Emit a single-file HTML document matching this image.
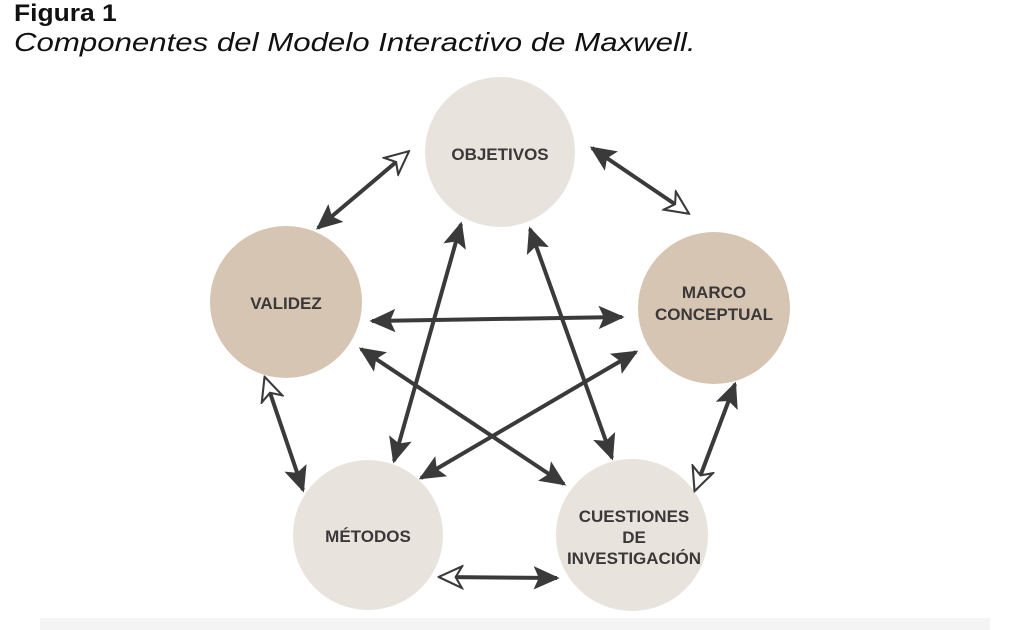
<!DOCTYPE html>
<html><head><meta charset="utf-8"><style>
body{margin:0;width:1024px;height:630px;background:#fff;overflow:hidden;position:relative;font-family:"Liberation Sans",sans-serif}
.t1{position:absolute;left:14px;top:0px;font-size:24px;font-weight:bold;color:#111;transform:scaleX(1.1);transform-origin:0 0;white-space:nowrap}
.t2{position:absolute;left:14px;top:27px;font-size:26px;font-style:italic;color:#111;transform:scaleX(1.2);transform-origin:0 0;white-space:nowrap}
</style></head><body>
<div class="t1">Figura 1</div>
<div class="t2">Componentes del Modelo Interactivo de Maxwell.</div>
<svg width="1024" height="630" style="position:absolute;left:0;top:0">
<defs>
<marker id="f" viewBox="0 0 10 10" refX="9" refY="5" markerWidth="6.5" markerHeight="6.5" orient="auto-start-reverse" markerUnits="strokeWidth">
<path d="M0,0.5 L10,5 L0,9.5 L2,5 z" fill="#3a3a3a"/></marker>
<marker id="o" viewBox="0 0 10 10" refX="9" refY="5" markerWidth="6.5" markerHeight="6.5" orient="auto-start-reverse" markerUnits="strokeWidth">
<path d="M0.5,0.8 L9.5,5 L0.5,9.2 L3,5 z" fill="#fff" stroke="#3a3a3a" stroke-width="0.8"/></marker>
</defs>
<rect x="40" y="618" width="950" height="12" fill="#f4f4f4"/>
<circle cx="500" cy="152" r="75" fill="#e8e3dd"/>
<circle cx="286" cy="302" r="76" fill="#d7c5b3"/>
<circle cx="714" cy="308" r="76" fill="#d7c5b3"/>
<circle cx="368" cy="535" r="75" fill="#e8e3dd"/>
<circle cx="632" cy="535" r="76" fill="#e8e3dd"/>
<g stroke="#3a3a3a" stroke-width="4" fill="none">
<line x1="318" y1="228" x2="408" y2="152" marker-start="url(#f)" marker-end="url(#o)"/>
<line x1="592" y1="148" x2="688" y2="213" marker-start="url(#f)" marker-end="url(#o)"/>
<line x1="735" y1="384" x2="695" y2="490" marker-start="url(#f)" marker-end="url(#o)"/>
<line x1="557" y1="578" x2="440" y2="577" marker-start="url(#f)" marker-end="url(#o)"/>
<line x1="303" y1="490" x2="265" y2="378" marker-start="url(#f)" marker-end="url(#o)"/>
<line x1="461" y1="224" x2="394" y2="461" marker-start="url(#f)" marker-end="url(#f)"/>
<line x1="530" y1="229" x2="612" y2="458" marker-start="url(#f)" marker-end="url(#f)"/>
<line x1="372" y1="321" x2="622" y2="317" marker-start="url(#f)" marker-end="url(#f)"/>
<line x1="361" y1="349" x2="564" y2="484" marker-start="url(#f)" marker-end="url(#f)"/>
<line x1="636" y1="352" x2="421" y2="478" marker-start="url(#f)" marker-end="url(#f)"/>
</g>
<g font-family="Liberation Sans, sans-serif" font-weight="bold" font-size="17" fill="#3a3838" text-anchor="middle">
<text x="500" y="160">OBJETIVOS</text>
<text x="286" y="309">VALIDEZ</text>
<text x="714" y="298">MARCO</text>
<text x="714" y="320">CONCEPTUAL</text>
<text x="368" y="542">MÉTODOS</text>
<text x="634" y="522">CUESTIONES</text>
<text x="634" y="543">DE</text>
<text x="634" y="564">INVESTIGACIÓN</text>
</g>
</svg>
</body></html>
